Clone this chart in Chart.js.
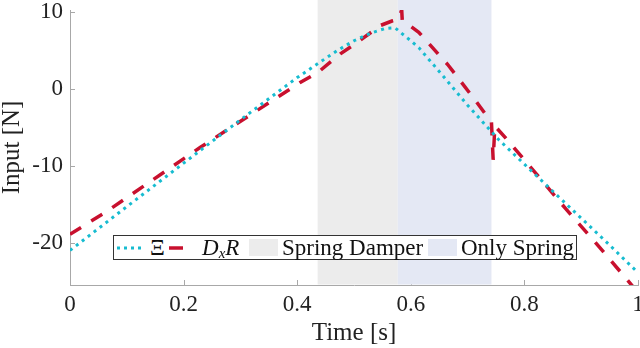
<!DOCTYPE html>
<html><head><meta charset="utf-8">
<script src="https://cdn.jsdelivr.net/npm/chart.js@4"></script>
<style>
html,body{margin:0;padding:0;background:#fff;}
#wrap{position:relative;width:640px;height:348px;}
canvas{display:block;}
#legend{position:absolute;left:113px;top:235px;width:462px;height:23px;border:1px solid #333;background:#fff;font-family:"Liberation Serif",serif;font-size:23px;color:#111;}
#legend .it{position:absolute;top:0;height:23px;line-height:23px;white-space:nowrap;}
#legend .patch{position:absolute;top:3px;height:17px;}
#legend svg{position:absolute;top:0;}
</style></head>
<body>
<div id="wrap">
<canvas id="c" width="640" height="348"></canvas>
<div id="legend">
  <svg style="left:3px" width="28" height="23"><line x1="0" y1="12" x2="28" y2="12" stroke="#17bcd0" stroke-width="3" stroke-dasharray="3 4"/></svg>
  <span class="it" style="left:36px">Ξ</span>
  <svg style="left:55px" width="28" height="23"><line x1="0" y1="12" x2="28" y2="12" stroke="#c8102e" stroke-width="3.5" stroke-dasharray="14 14"/></svg>
  <span class="it" style="left:88px;font-style:italic">D<sub style="font-size:15px;vertical-align:-3px;line-height:0">x</sub>R</span>
  <div class="patch" style="left:135px;width:29px;background:#ececec"></div>
  <span class="it" style="left:168px">Spring Damper</span>
  <div class="patch" style="left:314px;width:29px;background:#e4e8f4"></div>
  <span class="it" style="left:347px">Only Spring</span>
</div>
</div>
<script>
// Data
const tBlue = [0, 0.1, 0.229, 0.3, 0.4, 0.47, 0.5, 0.53, 0.555, 0.572, 0.585, 0.6, 0.614, 0.65, 0.7, 0.755, 0.84, 0.9, 0.95, 1.0];
const vBlue = [-21.0, -15.3, -8.0, -4.0, 1.5, 5.0, 6.3, 7.3, 7.9, 8.0, 7.2, 6.3, 5.4, 2.3, -2.1, -6.6, -12.6, -16.8, -20.3, -23.9];
const tRed = [0, 0.063, 0.229, 0.406, 0.437, 0.476, 0.506, 0.547, 0.568, 0.578, 0.584, 0.585, 0.594, 0.614, 0.665, 0.714, 0.742, 0.745, 0.748, 0.771, 0.824, 0.873, 0.922, 0.975, 1.0];
const vRed = [-18.9, -16.0, -7.6, 0.9, 2.2, 4.6, 6.1, 8.3, 8.9, 9.1, 10.3, 8.9, 8.5, 7.4, 3.2, -1.5, -4.3, -9.2, -4.8, -6.7, -11.3, -15.6, -19.7, -24.3, -26.5];
const regionSpringDamper = [0.436, 0.577];
const regionOnlySpring = [0.577, 0.742];
const xTicks = [0, 0.2, 0.4, 0.6, 0.8, 1];
const yTicks = [-20, -10, 0, 10];
const xLimits = [0, 1];
const yLimits = [-25.5, 10.3];

const axisColor = '#a8a8a8';
const shadePlugin = {
  id: 'shade',
  beforeDatasetsDraw(chart) {
    const {ctx, chartArea, scales} = chart;
    ctx.save();
    // inward tick marks
    ctx.strokeStyle = axisColor; ctx.lineWidth = 1;
    ctx.beginPath();
    scales.x.ticks.forEach(t => { const p = Math.round(scales.x.getPixelForValue(t.value)) + 0.5; ctx.moveTo(p, chartArea.bottom); ctx.lineTo(p, chartArea.bottom - 5); });
    scales.y.ticks.forEach(t => { const p = Math.round(scales.y.getPixelForValue(t.value)) + 0.5; ctx.moveTo(chartArea.left, p); ctx.lineTo(chartArea.left + 5, p); });
    ctx.stroke();
    const regs = [[regionSpringDamper, '#ececec'], [regionOnlySpring, '#e4e8f4']];
    regs.forEach(([r, col]) => {
      const x0 = scales.x.getPixelForValue(r[0]), x1 = scales.x.getPixelForValue(r[1]);
      ctx.fillStyle = col;
      ctx.fillRect(x0, 0, x1 - x0, chartArea.bottom - 0.5);
    });
    ctx.restore();
  }
};

const fontFam = '"Liberation Serif", serif';
new Chart(document.getElementById('c'), {
  type: 'line',
  data: {
    datasets: [
      { label: 'Xi', data: tBlue.map((t, i) => ({x: t, y: vBlue[i]})), borderColor: '#17bcd0', borderWidth: 3, borderDash: [3, 4.5], pointRadius: 0, tension: 0, fill: false },
      { label: 'DxR', data: tRed.map((t, i) => ({x: t, y: vRed[i]})), borderColor: '#c8102e', borderWidth: 3.5, borderDash: [13, 12], pointRadius: 0, tension: 0, fill: false }
    ]
  },
  options: {
    responsive: false, animation: false, devicePixelRatio: 1,
    layout: { padding: { top: 10, right: 2, left: 0, bottom: 0 } },
    plugins: { legend: { display: false }, tooltip: { enabled: false } },
    scales: {
      x: {
        type: 'linear', min: xLimits[0], max: xLimits[1],
        afterBuildTicks: s => { s.ticks = xTicks.map(v => ({value: v})); },
        afterFit: s => { s.height = 63; s.paddingLeft = 0; s.paddingRight = 0; },
        grid: { display: false, drawTicks: false },
        border: { display: true, color: axisColor, width: 1 },
        ticks: { color: '#222', font: { family: fontFam, size: 23 }, padding: 6, maxRotation: 0, callback: v => String(v) },
        title: { display: true, text: 'Time [s]', color: '#222', font: { family: fontFam, size: 25 }, padding: { top: 0, bottom: 0 } }
      },
      y: {
        type: 'linear', min: yLimits[0], max: yLimits[1],
        afterBuildTicks: s => { s.ticks = yTicks.map(v => ({value: v})); },
        afterFit: s => { s.width = 70; s.paddingTop = 0; s.paddingBottom = 0; },
        grid: { display: false, drawTicks: false },
        border: { display: true, color: axisColor, width: 1 },
        ticks: { color: '#222', font: { family: fontFam, size: 23 }, padding: 7, callback: v => String(v) },
        title: { display: true, text: 'Input [N]', color: '#222', font: { family: fontFam, size: 25, lineHeight: 1.0 }, padding: { top: 0, bottom: 0 } }
      }
    }
  },
  plugins: [shadePlugin]
});
</script>
</body></html>
